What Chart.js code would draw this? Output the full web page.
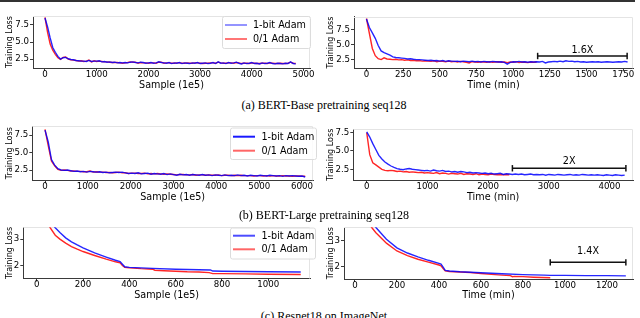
<!DOCTYPE html>
<html><head><meta charset="utf-8">
<script src="https://cdn.jsdelivr.net/npm/chart.js@4.4.0/dist/chart.umd.min.js"></script>
<style>
html,body{margin:0;padding:0;background:#fff;width:640px;height:318px;overflow:hidden;position:relative}
canvas{position:absolute}
.cap{position:absolute;left:0;width:648px;text-align:center;font-family:"Liberation Serif","Times New Roman",serif;font-size:12px;line-height:14px;color:#000;white-space:nowrap}
#topbar{position:absolute;left:0;top:0;width:635px;height:2px;background:#333}
</style></head><body>
<div id="topbar"></div>
<canvas id="c1"></canvas><canvas id="c2"></canvas>
<canvas id="c3"></canvas><canvas id="c4"></canvas>
<canvas id="c5"></canvas><canvas id="c6"></canvas>
<div class="cap" style="top:97.5px">(a) BERT-Base pretraining seq128</div>
<div class="cap" style="top:207.5px">(b) BERT-Large pretraining seq128</div>
<div class="cap" style="top:308.5px">(c) Resnet18 on ImageNet</div>
<script>
// ---------- DATA ----------
const seriesNames = ['1-bit Adam', '0/1 Adam'];
const yTitle = 'Training Loss';
const xTitleSample = 'Sample (1e5)';
const xTitleTime = 'Time (min)';

// (a) BERT-Base, loss vs samples
const p1X = [0,50,100,150,200,250,300,350,400,450,500,550,600,650,700,750,800,850,900,950,
1000,1050,1100,1150,1200,1250,1300,1350,1400,1450,1500,1550,1600,1650,1700,1750,1800,1850,1900,1950,
2000,2050,2100,2150,2200,2250,2300,2350,2400,2450,2500,2550,2600,2650,2700,2750,2800,2850,2900,2950,
3000,3050,3100,3150,3200,3250,3300,3350,3400,3450,3500,3550,3600,3650,3700,3750,3800,3850,3900,3950,
4000,4050,4100,4150,4200,4250,4300,4350,4400,4450,4500,4550,4600,4650,4700,4750,4800,4850];
const p1Blue = [8.5,7.2,5.6,4.2,3.5,2.9,2.5,2.7,2.75,2.55,
2.45,2.4,2.3,2.25,2.2,2.2,2.15,2.3,2.15,2.2,
2.2,2.25,2.1,2.15,2.05,2.1,2.0,2.05,1.95,2.0,
1.95,2.0,1.95,2.05,2.1,2.0,1.95,2.05,2.0,1.9,
1.95,2.0,1.9,1.95,2.1,2.0,1.95,1.9,2.0,1.85,
1.95,1.9,2.0,1.85,1.95,1.9,1.85,1.95,1.9,2.0,
1.85,1.9,1.95,1.85,1.9,2.0,1.85,2.1,1.9,1.95,
1.85,2.0,1.9,1.95,2.05,1.9,1.8,1.95,1.85,1.9,
2.0,1.85,1.9,1.8,1.95,1.85,1.9,2.0,1.85,1.8,
1.9,1.85,1.8,1.9,1.85,2.1,1.85,1.8];
const p1Red = [8.6,6.4,4.7,3.8,3.2,2.7,2.45,2.75,2.8,2.5,
2.4,2.35,2.3,2.2,2.25,2.15,2.2,2.35,2.1,2.25,
2.15,2.2,2.15,2.1,2.1,2.05,2.0,2.0,2.0,1.95,
1.9,1.95,2.0,2.1,2.05,2.05,1.9,2.0,1.95,1.95,
1.9,1.95,1.95,1.9,2.05,2.05,1.9,1.95,1.95,1.9,
1.9,1.95,1.95,1.9,1.9,1.95,1.9,1.9,1.95,1.95,
1.9,1.85,1.9,1.9,1.95,1.95,1.9,2.05,1.95,1.9,
1.9,1.95,1.95,1.9,2.0,1.95,1.85,1.9,1.9,1.85,
1.95,1.9,1.85,1.85,1.9,1.9,1.85,1.95,1.9,1.85,
1.85,1.9,1.85,1.85,1.9,2.05,1.9,1.85];
const p1XTicks = [0,1000,2000,3000,4000,5000];
const p1YTicks = [2.5,5.0,7.5];

// (a) BERT-Base, loss vs time
const p2X = [0,20,40,60,80,100,120,140,160,180,200,220,240,260,280,300,320,340,360,380,
400,420,440,460,480,500,520,540,560,580,600,620,640,660,680,700,720,740,760,780,
800,820,840,860,880,900,920,940,960,980,1000,1020,1040,1060,1080,1100,1120,1140,1160,1180,
1200,1220,1240,1260,1280,1300,1320,1340,1360,1380,1400,1420,1440,1460,1480,1500,1520,1540,1560,1580,
1600,1620,1640,1660,1680,1700,1720,1740,1760,1780];
const p2Blue = [9.2,7.8,6.9,6.0,4.8,3.9,3.6,3.4,3.2,2.9,
2.8,2.75,2.7,2.65,2.55,2.6,2.5,2.45,2.45,2.4,
2.35,2.3,2.35,2.25,2.3,2.2,2.3,2.15,2.25,2.2,
2.15,2.2,2.1,2.2,2.15,2.1,2.2,2.1,2.15,2.05,
2.15,2.1,2.05,2.15,2.1,2.05,2.1,2.0,1.7,2.0,
2.1,2.05,2.15,2.05,2.1,2.0,2.1,2.05,2.1,2.05,
2.15,1.9,2.05,2.1,2.15,2.1,2.2,2.1,2.25,2.15,
2.2,2.1,2.15,2.05,2.1,2.0,2.05,2.1,2.05,2.1,
2.0,2.05,2.1,2.05,2.0,2.05,2.1,2.05,2.15,2.05];
const p2Red = [9.3,6.8,4.3,3.1,2.6,2.45,2.75,2.55,2.5,2.45,
2.5,2.4,2.45,2.35,2.4,2.3,2.35,2.25,2.3,2.2,
2.25,2.2,2.15,2.25,2.1,2.2,2.15,2.1,2.2,2.1,
2.15,2.05,2.15,2.1,2.0,1.9,2.1,2.05,2.0,2.1,
2.05,2.0,2.1,2.0,2.05,2.1,2.0,2.05,1.95,2.05,
2.0,2.1,1.95,2.05,2.0,1.95,2.05,2.0,2.05];
const p2XTicks = [0,250,500,750,1000,1250,1500,1750];
const p2YTicks = [2.5,5.0,7.5];
const p2Gap = [1167,1777]; const p2GapY = 3.05; const p2GapText = '1.6X'; const p2GapTextY = 3.93;

// (b) BERT-Large, loss vs samples
const p3X = [0,75,150,225,300,375,450,525,600,675,750,825,900,975,1050,1125,1200,1275,1350,1425,
1500,1575,1650,1725,1800,1875,1950,2025,2100,2175,2250,2325,2400,2475,2550,2625,2700,2775,2850,2925,
3000,3075,3150,3225,3300,3375,3450,3525,3600,3675,3750,3825,3900,3975,4050,4125,4200,4275,4350,4425,
4500,4575,4650,4725,4800,4875,4950,5025,5100,5175,5250,5325,5400,5475,5550,5625,5700,5775,5850,5925,
6000,6075];
const p3Blue = [8.2,6.5,4.0,3.2,2.7,2.5,2.45,2.5,2.4,2.3,
2.35,2.25,2.3,2.2,2.3,2.25,2.2,2.25,2.15,2.2,
2.1,2.15,2.2,2.15,2.2,2.1,2.0,2.05,2.0,2.1,
1.95,2.0,2.05,1.9,2.0,1.95,1.9,2.0,1.85,1.95,
1.85,1.75,1.9,1.8,1.85,1.75,1.85,1.8,1.75,1.85,
1.75,1.8,1.7,1.8,1.75,1.7,1.8,1.7,1.75,1.7,
1.8,1.7,1.75,1.65,1.75,1.7,1.65,1.75,1.7,1.65,
1.75,1.7,1.65,1.7,1.6,1.7,1.65,1.7,1.65,1.6,
1.65,1.5];
const p3Red = [8.3,6.0,3.8,3.1,2.6,2.45,2.5,2.45,2.35,2.35,
2.3,2.3,2.25,2.25,2.35,2.2,2.25,2.2,2.2,2.15,
2.15,2.1,2.15,2.2,2.1,2.1,2.0,2.05,2.05,2.0,
2.0,2.05,1.95,2.0,1.95,2.0,1.95,1.9,1.95,1.9,
1.85,1.8,1.85,1.85,1.8,1.8,1.85,1.75,1.8,1.8,
1.75,1.8,1.75,1.75,1.8,1.7,1.75,1.75,1.7,1.75,
1.7,1.75,1.7,1.7,1.7,1.65,1.7,1.7,1.65,1.7,
1.65,1.7,1.65,1.65,1.7,1.65,1.65,1.6,1.65,1.65,
1.6,1.6];
const p3XTicks = [0,1000,2000,3000,4000,5000,6000];
const p3YTicks = [2.5,5.0,7.5];

// (b) BERT-Large, loss vs time
const p4X = [0,50,100,150,200,250,300,350,400,450,500,550,600,650,700,750,800,850,900,950,
1000,1050,1100,1150,1200,1250,1300,1350,1400,1450,1500,1550,1600,1650,1700,1750,1800,1850,1900,1950,
2000,2050,2100,2150,2200,2250,2300,2350,2400,2450,2500,2550,2600,2650,2700,2750,2800,2850,2900,2950,
3000,3050,3100,3150,3200,3250,3300,3350,3400,3450,3500,3550,3600,3650,3700,3750,3800,3850,3900,3950,
4000,4050,4100,4150,4200,4250];
const p4Blue = [7.6,6.9,6.0,5.2,4.4,3.9,3.5,3.2,2.95,2.75,
2.6,2.5,2.45,2.55,2.6,2.5,2.45,2.4,2.35,2.3,
2.35,2.25,2.4,2.3,2.25,2.35,2.2,2.25,2.15,2.2,
2.1,2.2,2.15,2.05,2.1,2.0,2.05,2.0,1.95,2.0,
1.9,1.95,1.85,1.9,1.95,1.8,1.9,1.85,1.8,1.85,
1.8,1.85,1.75,1.8,1.85,1.75,1.8,1.75,1.8,1.7,
1.8,1.75,1.7,1.8,1.75,1.7,1.75,1.8,1.7,1.75,
1.7,1.8,1.75,1.7,1.75,1.7,1.75,1.7,1.65,1.75,
1.7,1.65,1.75,1.7,1.65,1.7];
const p4Red = [7.5,4.5,3.4,3.1,2.8,2.5,2.35,2.3,2.35,2.3,
2.2,2.25,2.15,2.2,2.1,2.15,2.1,2.05,2.1,2.0,
2.05,2.0,1.95,2.05,1.9,2.0,1.95,1.85,1.95,1.9,
1.85,1.95,1.8,1.9,1.85,1.8,1.9,1.75,1.85,1.8,
1.75,1.85,1.8,1.75,1.8,1.75,1.8,1.75];
const p4XTicks = [0,1000,2000,3000,4000];
const p4YTicks = [2.5,5.0,7.5];
const p4Gap = [2400,4270]; const p4GapY = 2.64; const p4GapText = '2X'; const p4GapTextY = 3.54;

// (c) Resnet18, loss vs samples
const p5BlueX = [60,78,100,125,150,175,200,250,300,340,360,370,380,400,500,600,700,750,760,800,900,1000,1140];
const p5BlueY = [3.75,3.45,3.25,3.05,2.9,2.78,2.67,2.48,2.32,2.2,2.15,2.05,1.95,1.93,1.89,1.86,1.84,1.83,1.79,1.78,1.77,1.76,1.75];
const p5RedX = [40,57,80,100,125,150,175,200,250,300,340,360,370,380,400,450,500,510,550,600,650,700,745,760,800,900,1000,1140];
const p5RedY = [3.75,3.45,3.15,3.0,2.85,2.72,2.62,2.53,2.38,2.24,2.14,2.1,2.0,1.93,1.91,1.88,1.86,1.82,1.8,1.78,1.76,1.75,1.73,1.69,1.69,1.68,1.67,1.66];
const p5XTicks = [0,200,400,600,800,1000];
const p5YTicks = [2,3];

// (c) Resnet18, loss vs time
const p6BlueX = [80,100,150,200,250,300,350,400,410,420,430,450,500,600,700,800,900,930,1000,1100,1200,1290];
const p6BlueY = [3.75,3.5,3.05,2.72,2.52,2.37,2.24,2.12,2.09,1.98,1.85,1.83,1.8,1.76,1.72,1.69,1.67,1.66,1.66,1.65,1.65,1.64];
const p6RedX = [60,80,100,150,200,250,300,350,400,410,420,430,450,500,550,600,650,700,740,750,760,800,850,930];
const p6RedY = [3.75,3.5,3.3,2.9,2.6,2.42,2.28,2.17,2.06,2.03,1.92,1.83,1.81,1.79,1.77,1.73,1.7,1.67,1.65,1.61,1.62,1.61,1.59,1.57];
const p6XTicks = [0,200,400,600,800,1000,1200];
const p6YTicks = [2,3];
const p6Gap = [930,1290]; const p6GapY = 2.16; const p6GapText = '1.4X'; const p6GapTextY = 2.59;

// ---------- STYLE / LAYOUT ----------
const BLUE = 'rgba(0,0,255,0.85)';
const RED = 'rgba(255,0,0,0.85)';
const FONT = '"DejaVu Sans", "DejaVu Sans Book", Verdana, sans-serif';
const INK = '#000';
Chart.defaults.font.family = FONT;
Chart.defaults.color = INK;

// font sizes chosen so that rendered text widths match the reference picture
const mctx = document.createElement('canvas').getContext('2d');
function fitSize(text, targetW) { mctx.font = '100px ' + FONT; return +(100 * targetW / mctx.measureText(text).width).toFixed(2); }
const TICK_PX = fitSize('5000', 22);
const XTITLE_PX = fitSize('Sample (1e5)', 65);
const YTITLE_PX = fitSize('Training Loss', 52);
const LEG_PX = fitSize('1-bit Adam', 53);

const pts = (xs, ys) => ys.map((y, i) => ({x: xs[i], y}));

const framePlugin = {
  id: 'frame',
  beforeDatasetsDraw(chart) {
    const {ctx, chartArea: a} = chart;
    ctx.save();
    ctx.strokeStyle = '#e4e4e4'; ctx.lineWidth = 1;
    ctx.beginPath();
    ctx.moveTo(a.left, Math.round(a.top) + 0.5);
    ctx.lineTo(Math.round(a.right) - 0.5, Math.round(a.top) + 0.5);
    ctx.lineTo(Math.round(a.right) - 0.5, a.bottom);
    ctx.stroke();
    ctx.restore();
  }
};

const legendPlugin = {
  id: 'boxLegend',
  afterDatasetsDraw(chart, args, o) {
    if (!o || !o.box) return;
    const ctx = chart.ctx, ox = o.ox, oy = o.oy;
    const [bx, by, bw, bh] = o.box;
    ctx.save();
    ctx.fillStyle = 'rgba(255,255,255,0.85)';
    ctx.strokeStyle = '#dcdcdc'; ctx.lineWidth = 1;
    ctx.beginPath();
    ctx.roundRect(bx - ox + 0.5, by - oy + 0.5, bw, bh, 2);
    ctx.fill(); ctx.stroke();
    const items = chart.data.datasets.filter(d => d.inLegend);
    items.forEach((d, i) => {
      const y = o.rows[i] - oy;
      ctx.strokeStyle = o.colors[i]; ctx.lineWidth = o.lw;
      ctx.beginPath(); ctx.moveTo(o.line[0] - ox, y); ctx.lineTo(o.line[1] - ox, y); ctx.stroke();
      ctx.fillStyle = INK; ctx.font = LEG_PX + 'px ' + FONT; ctx.textBaseline = 'middle'; ctx.textAlign = 'left';
      ctx.fillText(d.label, o.textX - ox, y + 0.5);
    });
    ctx.restore();
  }
};

const gapPlugin = {
  id: 'gapText',
  afterDatasetsDraw(chart, args, o) {
    if (!o || !o.text) return;
    const ctx = chart.ctx;
    const x = chart.scales.x.getPixelForValue((o.from + o.to) / 2);
    const y = chart.scales.y.getPixelForValue(o.at);
    ctx.save();
    ctx.fillStyle = INK; ctx.font = LEG_PX + 'px ' + FONT; ctx.textAlign = 'center'; ctx.textBaseline = 'middle';
    ctx.fillText(o.text, x, y);
    ctx.restore();
  }
};

function makePanel(id, L, sets, xTicks, yTicks, yDigits, xTitle, legend, gap) {
  const cv = document.getElementById(id);
  const [al, at, ar, ab] = L.area;
  const W = Math.round(ar + 16 - L.left), H = Math.round(L.xTitleY + 9 - L.top);
  cv.width = W; cv.height = H;
  cv.style.left = L.left + 'px'; cv.style.top = L.top + 'px';
  cv.style.width = W + 'px'; cv.style.height = H + 'px';
  const datasets = sets.map((s, i) => ({
    label: seriesNames[i], data: s, borderColor: i === 0 ? BLUE : RED,
    borderWidth: 1.4, pointRadius: 0, tension: 0, fill: false, inLegend: true
  }));
  if (gap) {
    datasets.push({
      label: 'gap', data: [{x: gap.from, y: gap.y}, {x: gap.to, y: gap.y}],
      borderColor: '#111', backgroundColor: '#111', borderWidth: 1.5,
      pointStyle: 'line', rotation: 90, pointRadius: 3.2, pointBorderWidth: 1.5,
      inLegend: false, clip: false
    });
  }
  const tickFont = {size: TICK_PX, lineHeight: 1, family: FONT};
  const xtl = XTITLE_PX * 1.2, ytl = YTITLE_PX * 1.2;
  new Chart(cv, {
    type: 'line',
    data: {datasets},
    options: {
      responsive: false, animation: false, devicePixelRatio: 1,
      layout: {padding: {left: 0, top: at - L.top, right: L.left + W - ar, bottom: 0}},
      plugins: {
        legend: {display: false}, tooltip: {enabled: false},
        boxLegend: legend ? Object.assign({ox: L.left, oy: L.top}, legend) : {},
        gapText: gap ? {text: gap.text, from: gap.from, to: gap.to, at: gap.textY} : {}
      },
      scales: {
        x: {
          type: 'linear', min: L.x[0], max: L.x[1],
          afterBuildTicks: s => { s.ticks = xTicks.map(v => ({value: v})); },
          afterFit: s => { s.height = L.top + H - ab; },
          ticks: {font: tickFont, padding: 1.5 - TICK_PX / 2 + 2.2, color: INK, maxRotation: 0, autoSkip: false,
                  callback: v => String(v)},
          grid: {display: true, drawOnChartArea: false, drawTicks: true, tickLength: 3, color: '#3a3a3a'},
          border: {display: true, color: '#3a3a3a', width: 1},
          title: {display: true, text: xTitle, color: INK,
                  font: {size: XTITLE_PX, lineHeight: 1.2, family: FONT},
                  padding: {top: 0, bottom: (L.top + H) - L.xTitleY - xtl / 2}}
        },
        y: {
          type: 'linear', min: L.y[0], max: L.y[1],
          afterBuildTicks: s => { s.ticks = yTicks.map(v => ({value: v})); },
          afterFit: s => { s.width = al - L.left; },
          ticks: {font: tickFont, padding: 1, color: INK, autoSkip: false,
                  callback: v => Number(v).toFixed(yDigits)},
          grid: {display: true, drawOnChartArea: false, drawTicks: true, tickLength: 3, color: '#3a3a3a'},
          border: {display: true, color: '#3a3a3a', width: 1},
          title: {display: true, text: yTitle, color: INK,
                  font: {size: YTITLE_PX, lineHeight: 1.2, family: FONT},
                  padding: {top: L.yTitleX - L.left - ytl / 2, bottom: 0}}
        }
      }
    },
    plugins: [framePlugin, legendPlugin, gapPlugin]
  });
}

makePanel('c1', {left: 0, top: 4, area: [33, 16, 310, 68], xTitleY: 85.5, yTitleX: 10.3, x: [-232, 5126], y: [1.2, 8.8]},
  [pts(p1X, p1Blue), pts(p1X, p1Red)], p1XTicks, p1YTicks, 1, xTitleSample,
  {box: [222, 16, 88, 32], rows: [25, 39], line: [225, 247], textX: 253, lw: 1.2,
   colors: ['rgba(0,0,255,0.7)', 'rgba(255,0,0,0.9)']}, null);

makePanel('c2', {left: 320, top: 4, area: [354, 16.7, 633, 68.3], xTitleY: 85.5, yTitleX: 330.7, x: [-85, 1817], y: [1.0, 9.6]},
  [pts(p2X, p2Blue), pts(p2X, p2Red)], p2XTicks, p2YTicks, 1, xTitleTime, null,
  {from: p2Gap[0], to: p2Gap[1], y: p2GapY, text: p2GapText, textY: p2GapTextY});

makePanel('c3', {left: 0, top: 114, area: [32.3, 126, 313, 180.3], xTitleY: 197.8, yTitleX: 10.3, x: [-297, 6257], y: [1.03, 8.79]},
  [pts(p3X, p3Blue), pts(p3X, p3Red)], p3XTicks, p3YTicks, 1, xTitleSample,
  {box: [230, 127.5, 86, 31.5], rows: [136.7, 150.7], line: [233, 255], textX: 261.5, lw: 2,
   colors: ['rgba(0,0,255,0.9)', 'rgba(255,0,0,0.6)']}, null);

makePanel('c4', {left: 320, top: 117, area: [353.3, 129.3, 633, 180], xTitleY: 197.5, yTitleX: 330.7, x: [-221, 4387], y: [1.04, 7.96]},
  [pts(p4X, p4Blue), pts(p4X, p4Red)], p4XTicks, p4YTicks, 1, xTitleTime, null,
  {from: p4Gap[0], to: p4Gap[1], y: p4GapY, text: p4GapText, textY: p4GapTextY});

makePanel('c5', {left: 0, top: 215, area: [23.3, 227.3, 310, 278.5], xTitleY: 295, yTitleX: 10.3, x: [-58, 1180], y: [1.506, 3.45]},
  [pts(p5BlueX, p5BlueY), pts(p5RedX, p5RedY)], p5XTicks, p5YTicks, 0, xTitleSample,
  {box: [230, 227.5, 85, 31], rows: [235.7, 249.3], line: [233, 255], textX: 261.5, lw: 2,
   colors: ['rgba(0,0,255,0.7)', 'rgba(255,0,0,0.6)']}, null);

makePanel('c6', {left: 320, top: 215, area: [344, 227.3, 633, 279], xTitleY: 295, yTitleX: 330.7, x: [-52, 1324], y: [1.52, 3.51]},
  [pts(p6BlueX, p6BlueY), pts(p6RedX, p6RedY)], p6XTicks, p6YTicks, 0, xTitleTime, null,
  {from: p6Gap[0], to: p6Gap[1], y: p6GapY, text: p6GapText, textY: p6GapTextY});
</script>
</body></html>
